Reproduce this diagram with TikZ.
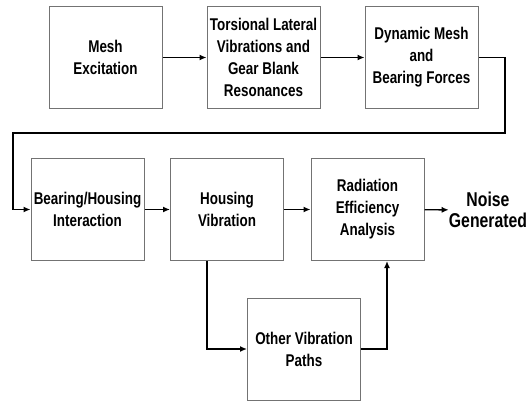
\documentclass[tikz,border=0pt]{standalone}
\usepackage{fontspec}
\setsansfont{Liberation Sans}[FakeStretch=0.79]
\usetikzlibrary{arrows.meta}

\begin{document}
\begin{tikzpicture}[x=1pt,y=-1pt,
    font=\sffamily\bfseries\fontsize{17}{22}\selectfont,
    arr/.style={draw,line width=1.4pt,-{Latex[length=7pt,width=6pt]}}]

      \useasboundingbox[fill=white] (0,0) rectangle (530,402);

      \begin{scope}[every node/.style={draw=black!55,line width=1pt,minimum width=113pt,
          minimum height=102pt,inner sep=0pt,align=center}]
        \node (mesh)  at (105.5,57.5) {Mesh\\Excitation};
        \node (tors)  at (263.5,57.5) {Torsional Lateral\\Vibrations and\\Gear Blank\\Resonances};
        \node (dyn)   at (421.5,57.5) {Dynamic Mesh\\and\\Bearing Forces};
        \node (bear)  at (87.5,209.5) {Bearing/Housing\\Interaction};
        \node (hous)  at (227,209.5)  {Housing\\Vibration};
        \node (rad)   at (367.5,209.5) {Radiation\\Efficiency\\Analysis};
        \node (other) at (304,349)    {Other Vibration\\Paths};
      \end{scope}

      \node[align=center,inner sep=0pt,font=\sffamily\bfseries\fontsize{20}{21}\selectfont]
        (noise) at (488,210) {Noise\\Generated};

      \coordinate (c1) at (505,133);
      \coordinate (c2) at (13,133);
      \coordinate (v1) at (207,0);
      \coordinate (v2) at (387,0);

      \path[arr] (mesh) -- (tors);
      \path[arr] (tors) -- (dyn);
      \path[arr] (dyn.east) -| (c1) -- (c2) |- (bear.west);
      \path[arr] (bear) -- (hous);
      \path[arr] (hous) -- (rad);
      \path[arr] (rad) -- (noise);
      \path[arr] (v1 |- hous.south) |- (other.west);
      \path[arr] (other.east) -| (v2 |- rad.south);

    \end{tikzpicture}
\end{document}
